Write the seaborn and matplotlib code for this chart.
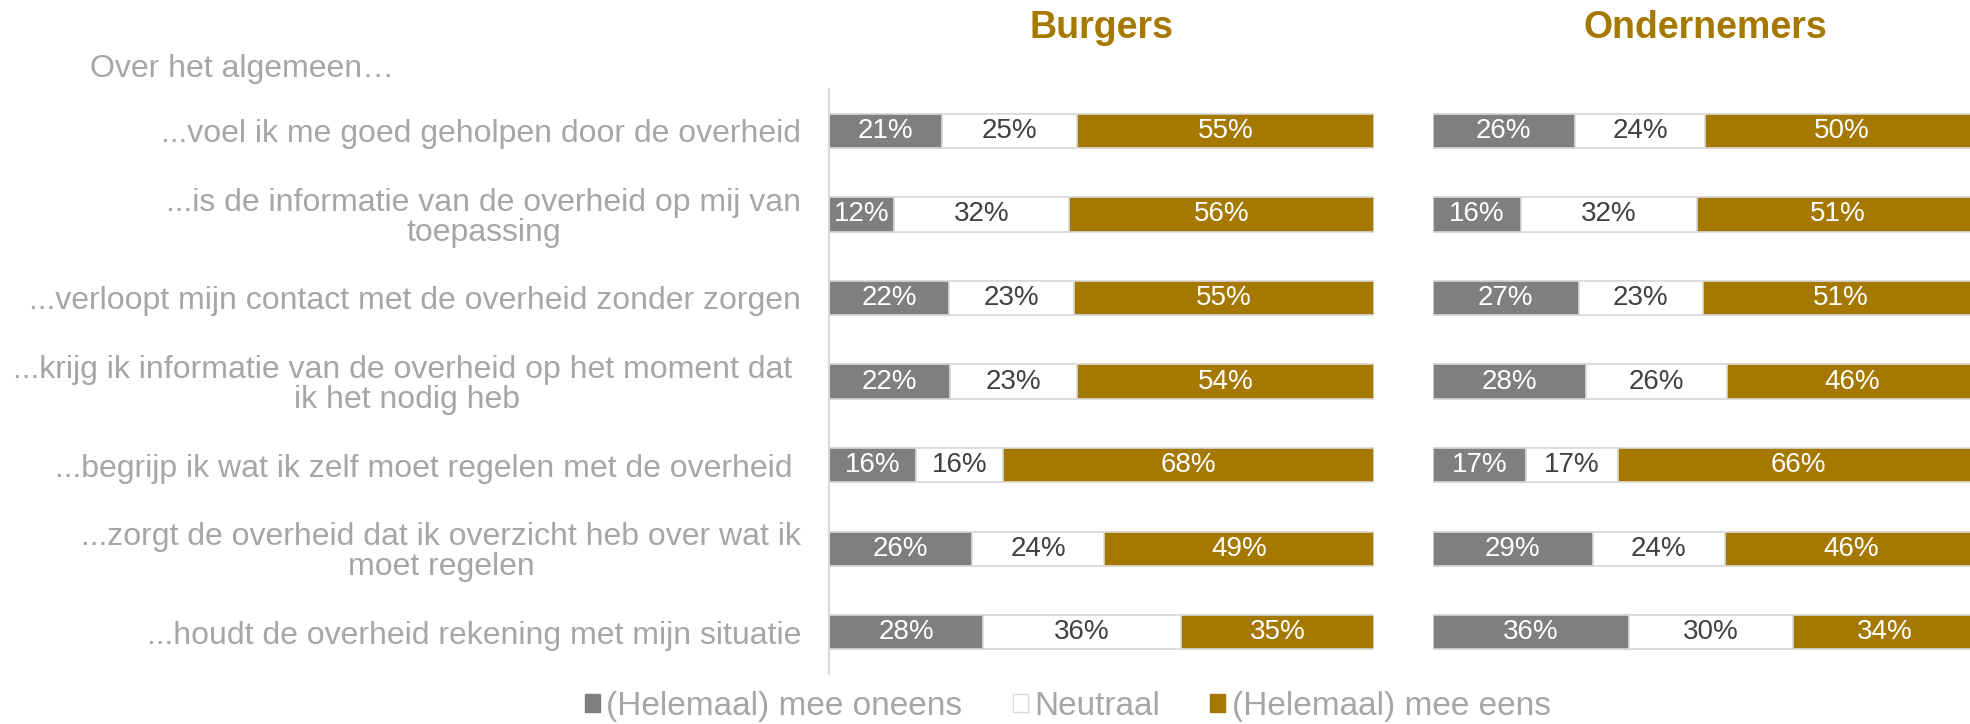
import numpy as np
import pandas as pd
import seaborn as sns
import matplotlib.pyplot as plt
from matplotlib.patches import Patch

# statements (wrapped as in the original slide)
items = [
    "...voel ik me goed geholpen door de overheid",
    "...is de informatie van de overheid op mij van\ntoepassing",
    "...verloopt mijn contact met de overheid zonder zorgen",
    "...krijg ik informatie van de overheid op het moment dat \nik het nodig heb",
    "...begrijp ik wat ik zelf moet regelen met de overheid ",
    "...zorgt de overheid dat ik overzicht heb over wat ik\nmoet regelen",
    "...houdt de overheid rekening met mijn situatie",
]
series = ["(Helemaal) mee oneens", "Neutraal", "(Helemaal) mee eens"]
panels = ["Burgers", "Ondernemers"]

burgers_oneens = [21, 12, 22, 22, 16, 26, 28]
burgers_neutraal = [25, 32, 23, 23, 16, 24, 36]
burgers_eens = [55, 56, 55, 54, 68, 49, 35]

ondernemers_oneens = [26, 16, 27, 28, 17, 29, 36]
ondernemers_neutraal = [24, 32, 23, 26, 17, 24, 30]
ondernemers_eens = [50, 51, 51, 46, 66, 46, 34]

GRAY = "#7F7F7F"
GOLD = "#A57800"
EDGE = "#D9D9D9"
TEXT = "#A6A6A6"
DARK = "#404040"

sns.set_theme(style="white")
plt.rcParams["font.family"] = ["Liberation Sans", "DejaVu Sans"]

fig = plt.figure(figsize=(19.7, 7.24), dpi=100)
ax_b = fig.add_axes([0.4208, 0.0691, 0.2766, 0.8079])
ax_o = fig.add_axes([0.7274, 0.0691, 0.2766, 0.8079])


def draw_panel(ax, title, oneens, neutraal, eens, show_labels):
    df = pd.DataFrame({"item": items, "oneens": oneens,
                       "neutraal": neutraal, "eens": eens})
    cols = ["oneens", "neutraal", "eens"]
    # rounded shares don't always add to 100, scale each row so bars line up
    shares = df[cols].div(df[cols].sum(axis=1), axis=0) * 100
    cum = shares.cumsum(axis=1)

    # stacked look: draw the cumulative bars from back to front
    for col, color in [("eens", GOLD), ("neutraal", "white"), ("oneens", GRAY)]:
        sns.barplot(x=cum[col], y=df["item"], orient="h", color=color,
                    saturation=1, width=0.41, edgecolor=EDGE, linewidth=1.2,
                    errorbar=None, ax=ax)

    # percentage labels in the middle of each segment
    for col, tcolor in [("oneens", "white"), ("neutraal", DARK), ("eens", "white")]:
        mids = cum[col] - shares[col] / 2
        for i, (m, v) in enumerate(zip(mids, df[col])):
            ax.text(m, i, f"{v}%", ha="center", va="center",
                    fontsize=20, color=tcolor)

    ax.set_xlim(0, 100)
    ax.set_ylim(6.5, -0.5)
    ax.set_xticks([])
    ax.set_xlabel("")
    ax.set_ylabel("")
    ax.set_title(title, color=GOLD, fontsize=27, fontweight="bold", pad=37)
    ax.tick_params(axis="y", length=0, pad=20, labelsize=23,
                   labelcolor=TEXT, labelleft=show_labels)
    for lbl in ax.get_yticklabels():
        lbl.set_multialignment("center")
        lbl.set_linespacing(1.0)

    sns.despine(ax=ax, left=not show_labels, bottom=True)
    ax.spines["left"].set_color(EDGE)
    ax.spines["left"].set_linewidth(1.5)


draw_panel(ax_b, panels[0], burgers_oneens, burgers_neutraal, burgers_eens, True)
draw_panel(ax_o, panels[1], ondernemers_oneens, ondernemers_neutraal,
           ondernemers_eens, False)

fig.text(0.0457, 0.905, "Over het algemeen\u2026", fontsize=23, color=TEXT,
         ha="left", va="center")

handles = [Patch(facecolor=GRAY, edgecolor=GRAY),
           Patch(facecolor="white", edgecolor=EDGE),
           Patch(facecolor=GOLD, edgecolor=GOLD)]
fig.legend(handles, series, loc="center", bbox_to_anchor=(0.542, 0.024),
           ncol=3, frameon=False, fontsize=24, labelcolor=TEXT,
           handlelength=0.45, handleheight=0.45, handletextpad=0.2,
           columnspacing=1.5)

fig.savefig("out.png", dpi=100)
